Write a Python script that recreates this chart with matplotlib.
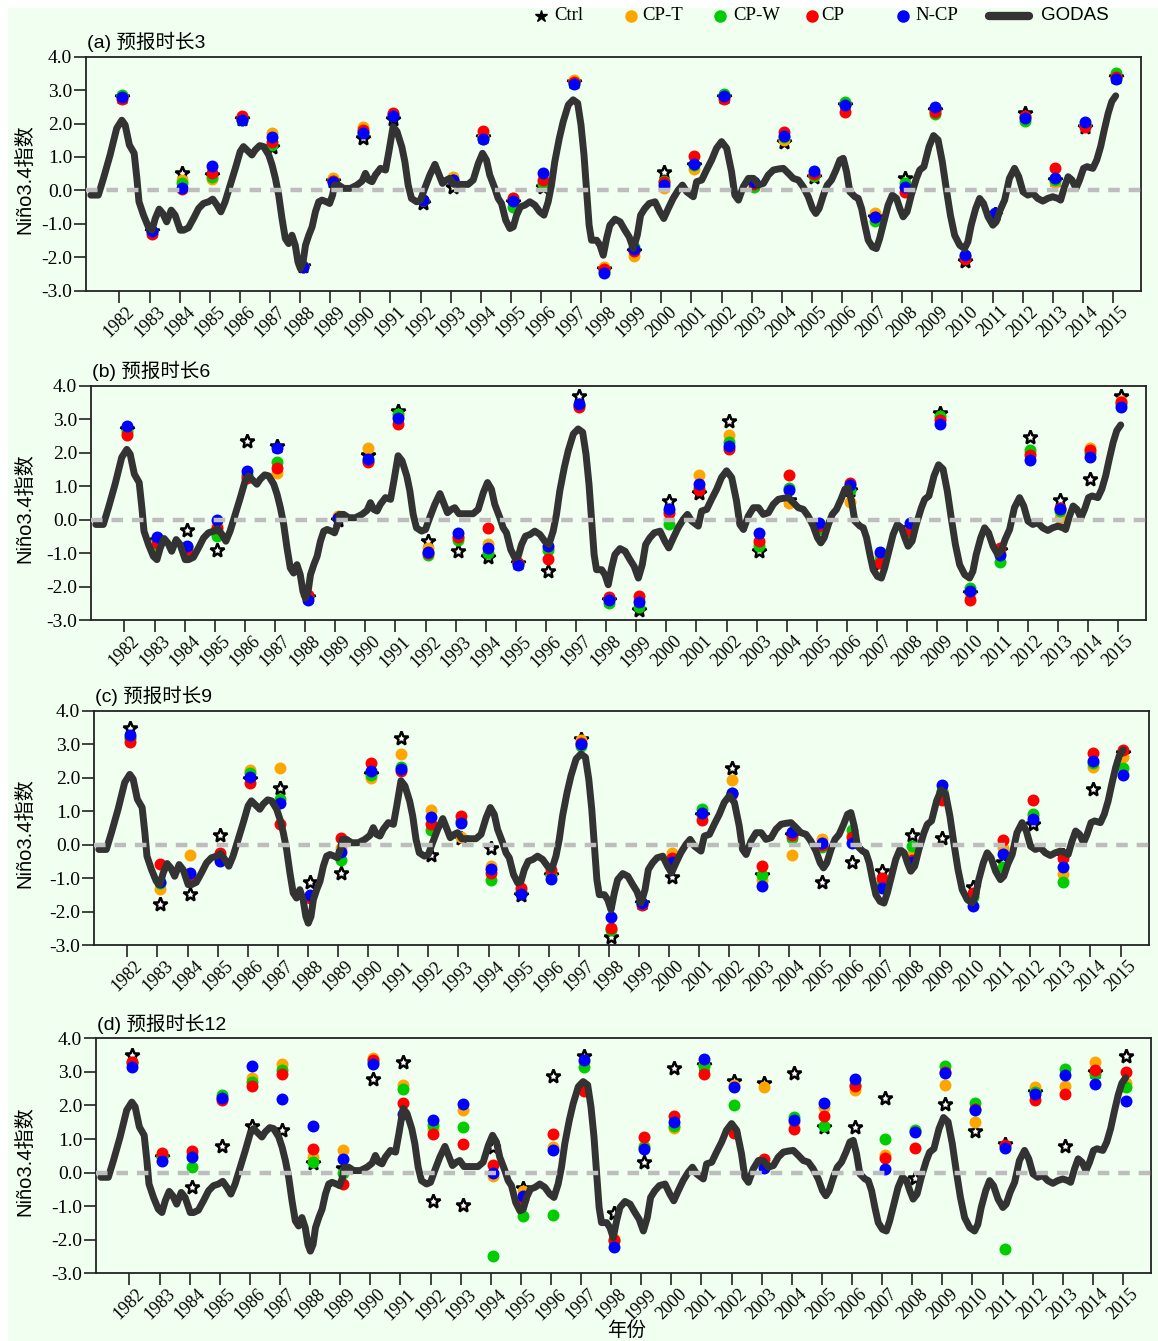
import matplotlib
matplotlib.use('Agg')
import matplotlib.pyplot as plt
from matplotlib.lines import Line2D
from matplotlib.patches import Rectangle
import numpy as np

# ---------------- data ----------------
years = list(range(1982, 2016))
year_labels = [str(y) for y in years]
ytick_vals = [-3, -2, -1, 0, 1, 2, 3, 4]
ytick_labels = ['-3.0', '-2.0', '-1.0', '0.0', '1.0', '2.0', '3.0', '4.0']
series_names = ['Ctrl', 'CP-T', 'CP-W', 'CP', 'N-CP']
panel_titles = ['(a) 预报时长3', '(b) 预报时长6', '(c) 预报时长9', '(d) 预报时长12']

# GODAS Nino3.4 index (x in tick units: tick "Y" = December of Y)
godas_t = [1981.05, 1981.30, 1981.47, 1981.69, 1981.91, 1982.08, 1982.19, 1982.33, 1982.49, 1982.58,
           1982.65, 1982.80, 1982.96, 1983.08, 1983.19, 1983.32, 1983.44, 1983.57, 1983.72, 1983.85,
           1984.02, 1984.13, 1984.29, 1984.46, 1984.63, 1984.79, 1984.96, 1985.10, 1985.24, 1985.37,
           1985.51, 1985.68, 1985.85, 1986.01, 1986.12, 1986.23, 1986.40, 1986.51, 1986.66, 1986.79,
           1986.96, 1987.07, 1987.18, 1987.29, 1987.40, 1987.51, 1987.62, 1987.73, 1987.84, 1987.93,
           1988.01, 1988.10, 1988.18, 1988.29, 1988.40, 1988.51, 1988.62, 1988.73, 1988.87, 1988.98,
           1989.08, 1989.14, 1989.28, 1989.45, 1989.67, 1989.89, 1990.06, 1990.17, 1990.28, 1990.39,
           1990.50, 1990.67, 1990.84, 1990.95, 1991.09, 1991.22, 1991.38, 1991.48, 1991.59, 1991.70,
           1991.87, 1992.00, 1992.14, 1992.31, 1992.48, 1992.62, 1992.73, 1992.86, 1992.97, 1993.11,
           1993.31, 1993.58, 1993.75, 1993.92, 1994.06, 1994.19, 1994.30, 1994.47, 1994.58, 1994.69,
           1994.83, 1994.97, 1995.08, 1995.19, 1995.32, 1995.47, 1995.63, 1995.80, 1995.96, 1996.10,
           1996.24, 1996.35, 1996.46, 1996.61, 1996.74, 1996.91, 1997.07, 1997.22, 1997.33, 1997.43,
           1997.52, 1997.60, 1997.68, 1997.85, 1997.96, 1998.07, 1998.18, 1998.29, 1998.46, 1998.63,
           1998.79, 1998.93, 1999.07, 1999.20, 1999.31, 1999.45, 1999.60, 1999.79, 1999.95, 2000.08,
           2000.23, 2000.39, 2000.56, 2000.70, 2000.84, 2001.06, 2001.17, 2001.34, 2001.50, 2001.67,
           2001.83, 2002.00, 2002.17, 2002.33, 2002.44, 2002.56, 2002.72, 2002.89, 2003.06, 2003.22,
           2003.39, 2003.55, 2003.72, 2003.88, 2004.05, 2004.22, 2004.38, 2004.55, 2004.71, 2004.88,
           2005.02, 2005.13, 2005.24, 2005.38, 2005.51, 2005.65, 2005.80, 2005.93, 2006.04, 2006.15,
           2006.26, 2006.43, 2006.54, 2006.65, 2006.76, 2006.87, 2007.01, 2007.14, 2007.25, 2007.39,
           2007.53, 2007.67, 2007.81, 2007.92, 2008.03, 2008.16, 2008.30, 2008.47, 2008.58, 2008.72,
           2008.89, 2009.04, 2009.19, 2009.33, 2009.46, 2009.60, 2009.74, 2009.91, 2010.07, 2010.18,
           2010.29, 2010.44, 2010.57, 2010.70, 2010.85, 2011.01, 2011.12, 2011.25, 2011.40, 2011.56,
           2011.73, 2011.87, 2012.01, 2012.17, 2012.34, 2012.50, 2012.67, 2012.83, 2013.00, 2013.17,
           2013.26, 2013.39, 2013.51, 2013.64, 2013.77, 2013.89, 2014.02, 2014.14, 2014.33, 2014.46,
           2014.59, 2014.71, 2014.84, 2014.96, 2015.09]
godas_v = [-0.14, -0.14, 0.36, 1.06, 1.86, 2.10, 1.96, 1.36, 1.11, 0.36,
           -0.34, -0.74, -1.09, -1.19, -0.84, -0.56, -0.69, -0.94, -0.59, -0.74,
           -1.19, -1.19, -1.12, -0.84, -0.54, -0.39, -0.34, -0.26, -0.44, -0.64,
           -0.34, 0.16, 0.66, 1.16, 1.31, 1.21, 1.06, 1.21, 1.34, 1.31,
           1.06, 0.76, 0.36, -0.14, -0.84, -1.44, -1.59, -1.34, -1.64, -2.14,
           -2.34, -2.14, -1.64, -1.34, -1.09, -0.64, -0.34, -0.29, -0.34, -0.39,
           -0.14, 0.16, 0.16, 0.06, 0.06, 0.16, 0.28, 0.51, 0.31, 0.26,
           0.46, 0.66, 0.61, 1.16, 1.91, 1.76, 1.30, 0.86, 0.16, -0.24,
           -0.34, -0.29, 0.06, 0.46, 0.78, 0.46, 0.21, 0.31, 0.36, 0.18,
           0.18, 0.18, 0.31, 0.81, 1.11, 0.91, 0.46, 0.06, -0.24, -0.39,
           -0.89, -1.14, -1.09, -0.74, -0.49, -0.44, -0.34, -0.44, -0.64, -0.74,
           -0.34, 0.16, 0.86, 1.56, 2.06, 2.56, 2.71, 2.61, 1.96, 1.06,
           -0.04, -1.04, -1.49, -1.49, -1.64, -1.94, -1.44, -1.04, -0.86, -0.94,
           -1.19, -1.39, -1.74, -1.34, -0.74, -0.54, -0.39, -0.34, -0.64, -0.84,
           -0.54, -0.24, 0.01, 0.16, -0.04, -0.19, 0.26, 0.31, 0.61, 0.91,
           1.26, 1.46, 1.26, 0.56, -0.14, -0.29, 0.11, 0.36, 0.36, 0.16,
           0.21, 0.46, 0.61, 0.64, 0.66, 0.51, 0.36, 0.31, 0.11, -0.19,
           -0.54, -0.69, -0.54, -0.14, 0.16, 0.31, 0.61, 0.91, 0.96, 0.56,
           -0.04, -0.19, -0.24, -0.54, -1.04, -1.49, -1.69, -1.74, -1.44, -0.94,
           -0.44, -0.14, -0.24, -0.54, -0.79, -0.64, -0.14, 0.36, 0.61, 0.71,
           1.31, 1.64, 1.51, 0.86, 0.06, -0.74, -1.34, -1.64, -1.74, -1.54,
           -1.04, -0.54, -0.24, -0.39, -0.79, -1.04, -0.94, -0.59, -0.29, 0.36,
           0.66, 0.41, -0.04, -0.14, -0.09, -0.24, -0.32, -0.24, -0.19, -0.24,
           -0.29, 0.11, 0.41, 0.31, 0.06, 0.31, 0.66, 0.71, 0.66, 0.91,
           1.31, 1.81, 2.31, 2.66, 2.83]

# forecasts, lead 3
lead3_ctrl = [2.80, -1.20, 0.51, 0.45, 2.15, 1.31, -2.25, 0.28, 1.56, 2.15, -0.39, 0.11, 1.60, -0.35, 0.11, 3.25, -2.35,
              -1.80, 0.56, 0.75, 2.80, 0.20, 1.46, 0.40, 2.55, -0.80, 0.38, 2.40, -2.12, -0.70, 2.31, 0.30, 1.90, 3.40]
lead3_cpt = [2.82, -1.25, 0.31, 0.34, 2.15, 1.71, -2.25, 0.36, 1.91, 2.30, -0.30, 0.41, 1.60, -0.22, 0.26, 3.31, -2.29,
             -1.96, 0.06, 0.64, 2.80, 0.20, 1.51, 0.46, 2.60, -0.69, 0.10, 2.40, -2.00, -0.70, 2.20, 0.26, 1.95, 3.40]
lead3_cpw = [2.86, -1.20, 0.21, 0.41, 2.12, 1.36, -2.25, 0.28, 1.75, 2.25, -0.30, 0.30, 1.55, -0.49, 0.18, 3.20, -2.40,
             -1.69, 0.28, 0.75, 2.88, 0.11, 1.60, 0.44, 2.64, -0.92, 0.21, 2.28, -1.95, -0.70, 2.08, 0.30, 1.95, 3.50]
lead3_cp = [2.72, -1.29, 0.03, 0.53, 2.24, 1.46, -2.28, 0.28, 1.81, 2.33, -0.30, 0.30, 1.78, -0.22, 0.31, 3.24, -2.36,
            -1.80, 0.24, 1.04, 2.74, 0.20, 1.76, 0.50, 2.34, -0.80, -0.04, 2.36, -2.06, -0.70, 2.24, 0.68, 1.91, 3.40]
lead3_ncp = [2.78, -1.22, 0.08, 0.73, 2.10, 1.61, -2.28, 0.24, 1.71, 2.23, -0.29, 0.31, 1.54, -0.32, 0.53, 3.18, -2.47,
             -1.76, 0.16, 0.78, 2.81, 0.26, 1.64, 0.59, 2.56, -0.81, 0.11, 2.49, -1.92, -0.69, 2.18, 0.38, 2.04, 3.33]

# lead 6
lead6_ctrl = [2.70, -0.60, -0.31, -0.89, 2.36, 2.20, -2.30, 0.00, 1.93, 3.25, -0.64, -0.94, -1.11, -1.30, -1.52, 3.68, -2.40,
              -2.68, 0.56, 0.79, 2.95, -0.94, 0.60, -0.20, 0.90, -1.30, -0.25, 3.20, -2.20, -0.90, 2.47, 0.59, 1.23, 3.68]
lead6_cpt = [2.60, -0.60, -0.80, -0.19, 1.30, 1.41, -2.30, 0.11, 2.15, 3.10, -0.84, -0.50, -0.71, -1.30, -0.85, 3.40, -2.35,
             -2.40, 0.25, 1.33, 2.54, -0.70, 0.51, -0.20, 0.53, -1.09, -0.30, 3.05, -2.20, -1.00, 2.00, 0.06, 2.13, 3.55]
lead6_cpw = [2.65, -0.80, -0.80, -0.49, 1.35, 1.73, -2.30, 0.05, 1.75, 3.17, -1.04, -0.59, -0.99, -1.30, -0.90, 3.42, -2.49,
             -2.60, -0.12, 0.95, 2.31, -0.79, 0.96, -0.27, 0.90, -1.20, -0.44, 3.10, -2.04, -1.26, 2.09, 0.26, 2.00, 3.45]
lead6_cp = [2.52, -0.69, -0.89, -0.24, 1.26, 1.55, -2.24, 0.05, 1.71, 2.85, -1.00, -0.50, -0.26, -1.30, -1.17, 3.37, -2.29,
            -2.27, 0.19, 0.89, 2.10, -0.64, 1.34, -0.19, 1.09, -1.29, -0.34, 2.97, -2.39, -0.84, 1.93, 0.35, 2.08, 3.50]
lead6_ncp = [2.80, -0.52, -0.77, 0.00, 1.45, 2.14, -2.39, 0.06, 1.80, 3.04, -0.97, -0.41, -0.84, -1.36, -0.77, 3.45, -2.39,
             -2.46, 0.31, 1.06, 2.20, -0.41, 0.89, -0.09, 1.04, -0.97, -0.11, 2.85, -2.14, -1.04, 1.78, 0.31, 1.88, 3.35]

# lead 9
lead9_ctrl = [3.47, -1.78, -1.47, 0.29, 1.95, 1.70, -1.10, -0.84, 2.10, 3.19, -0.31, 0.20, -0.09, -1.50, -0.90, 3.17, -2.75,
              -1.75, -0.96, 0.90, 2.30, -0.90, 0.30, -1.10, -0.51, -0.78, 0.29, 0.19, -1.27, -0.50, 0.62, -0.30, 1.65, 2.75]
lead9_cpt = [3.20, -1.33, -0.31, -0.30, 2.23, 2.30, -1.55, -0.10, 1.98, 2.70, 1.05, 0.24, -0.63, -1.35, -0.90, 3.12, -2.50,
             -1.75, -0.26, 0.90, 1.93, -1.05, -0.31, 0.16, 0.30, -1.10, -0.30, 1.60, -1.50, -0.11, 0.85, -0.88, 2.33, 2.63]
lead9_cpw = [3.20, -1.15, -0.95, -0.40, 2.13, 1.38, -1.55, -0.44, 2.08, 2.33, 0.44, 0.70, -1.05, -1.40, -0.90, 2.95, -2.55,
             -1.75, -0.45, 1.08, 1.55, -0.90, 0.19, -0.06, 0.44, -1.20, -0.04, 1.60, -1.55, -0.66, 0.92, -1.10, 2.45, 2.30]
lead9_cp = [3.07, -0.58, -0.90, -0.24, 1.83, 0.62, -1.60, 0.19, 2.43, 2.20, 0.61, 0.86, -0.83, -1.30, -0.76, 3.05, -2.48,
            -1.80, -0.41, 0.74, 1.50, -0.64, 0.29, 0.00, 0.24, -1.00, -0.44, 1.33, -1.43, 0.14, 1.33, -0.41, 2.75, 2.83]
lead9_ncp = [3.27, -1.10, -0.84, -0.48, 2.01, 1.26, -1.50, -0.21, 2.21, 2.26, 0.82, 0.64, -0.73, -1.48, -1.02, 3.00, -2.15,
             -1.75, -0.50, 0.96, 1.53, -1.22, 0.39, 0.04, 0.06, -1.30, -0.50, 1.78, -1.83, -0.28, 0.76, -0.66, 2.50, 2.08]

# lead 12
lead12_ctrl = [3.49, 0.45, -0.44, 0.78, 1.40, 1.28, 0.30, 0.15, 2.79, 3.29, -0.85, -0.98, 0.75, -0.46, 2.87, 3.47, -1.20,
               0.31, 3.12, 3.20, 2.72, 2.67, 2.97, 1.36, 1.35, 2.22, -0.16, 2.05, 1.23, 0.85, 2.40, 0.78, 3.00, 3.47]
lead12_cpt = [3.30, 0.50, 0.55, 2.25, 2.82, 3.22, 0.47, 0.66, 3.42, 2.62, 1.30, 1.86, -0.11, -0.56, 0.76, 3.30, -1.98,
              0.80, 1.33, 3.20, 2.60, 2.54, 1.50, 1.96, 2.45, 0.53, 1.25, 2.60, 1.51, 0.80, 2.54, 2.59, 3.29, 2.67]
lead12_cpw = [3.25, 0.45, 0.16, 2.32, 2.70, 3.07, 0.31, 0.00, 3.30, 2.49, 1.43, 1.36, -2.49, -1.28, -1.25, 3.14, -2.05,
              0.75, 1.40, 3.17, 2.00, 0.30, 1.65, 1.40, 2.60, 1.00, 1.28, 3.17, 2.06, -2.27, 2.40, 3.09, 2.95, 2.55]
lead12_cp = [3.29, 0.59, 0.64, 2.16, 2.57, 2.95, 0.71, -0.33, 3.35, 2.06, 1.16, 0.86, 0.22, -0.80, 1.16, 2.42, -2.00,
             1.05, 1.70, 2.94, 1.18, 0.41, 1.30, 1.68, 2.57, 0.44, 0.72, 3.00, 1.90, 0.83, 2.15, 2.35, 3.07, 2.99]
lead12_ncp = [3.15, 0.34, 0.47, 2.22, 3.17, 2.19, 1.38, 0.39, 3.24, 1.76, 1.58, 2.05, -0.01, -0.71, 0.66, 3.35, -2.21,
              0.69, 1.51, 3.37, 2.54, 0.14, 1.56, 2.08, 2.79, 0.12, 1.21, 2.97, 1.86, 0.73, 2.35, 2.92, 2.65, 2.14]

panels = [
    [lead3_ctrl, lead3_cpt, lead3_cpw, lead3_cp, lead3_ncp],
    [lead6_ctrl, lead6_cpt, lead6_cpw, lead6_cp, lead6_ncp],
    [lead9_ctrl, lead9_cpt, lead9_cpw, lead9_cp, lead9_ncp],
    [lead12_ctrl, lead12_cpt, lead12_cpw, lead12_cp, lead12_ncp],
]

# ---------------- style ----------------
W, H = 1158, 1341
BG = '#F0FFF0'
dot_colors = ['black', '#FFA500', '#00CC00', '#FF0000', '#0000FF']
GODAS_C = '#333333'
SERIF = ['Liberation Serif', 'DejaVu Serif']
SANS_CJK = ['Liberation Sans', 'Noto Sans CJK SC', 'DejaVu Sans']

# axes boxes in pixels: left, right, top, bottom
boxes = [(86, 1141, 56.7, 290.7),
         (91, 1146, 385.7, 620.3),
         (94, 1148.5, 710.7, 945.3),
         (96, 1151, 1038.3, 1273.3)]

fig = plt.figure(figsize=(W / 100, H / 100), dpi=100)
fig.patch.set_facecolor('white')
fig.add_artist(Rectangle((8 / W, 0), 1 - 8 / W, 1 - 8 / H, transform=fig.transFigure,
                         facecolor=BG, edgecolor='none', zorder=-10))

dot_offset = 1.0 / 12
xs = np.array(years) + dot_offset

for i, (l, r, t, b) in enumerate(boxes):
    ax = fig.add_axes([l / W, 1 - b / H, (r - l) / W, (b - t) / H])
    ax.set_facecolor(BG)
    ax.set_xlim(1980.89, 2015.93)
    ax.set_ylim(-3.0, 4.0)

    data = panels[i]
    # Ctrl stars
    ax.plot(xs, data[0], ls='none', marker='*', ms=10.5, mfc='white', mec='black', mew=1.8, zorder=3)
    for k in range(1, 5):
        ax.plot(xs, data[k], ls='none', marker='o', ms=8.6, color=dot_colors[k], mec=dot_colors[k],
                mew=0, zorder=3 + k * 0.1)
    # GODAS curve
    ax.plot(godas_t, godas_v, color=GODAS_C, lw=5.0, solid_joinstyle='round',
            solid_capstyle='round', zorder=5)
    # zero line
    ax.axhline(0, color='#BDBDBD', lw=3.2, ls=(0, (2.6, 2.0)), zorder=6)

    ax.set_xticks(years)
    ax.set_xticklabels(year_labels, rotation=45, ha='center', fontfamily=SERIF, fontsize=13)
    ax.set_yticks(ytick_vals)
    ax.set_yticklabels(ytick_labels, fontfamily=SERIF, fontsize=14)
    ax.tick_params(axis='both', direction='out', length=8.5, width=1.2, color='#222222', pad=1.5)
    ax.tick_params(axis='x', pad=0.5)
    for sp in ax.spines.values():
        sp.set_linewidth(1.3)
        sp.set_color('#222222')

    fig.text((l + 1) / W, 1 - (t - 14.5) / H, panel_titles[i], family=SANS_CJK, fontsize=14,
             ha='left', va='center')
    fig.text(25 / W, 1 - ((t + b) / 2 + 5) / H, 'Niño3.4指数', family=SANS_CJK, fontsize=14.5,
             rotation=90, ha='center', va='center')

fig.text(627 / W, 1 - 1331 / H, '年份', family=SANS_CJK, fontsize=14, ha='center', va='center')

# ---------------- legend (top) ----------------
ly = 1 - 16 / H
leg_markers = [(540.7, '*', 'black', 9), (631, 'o', dot_colors[1], 8), (720, 'o', dot_colors[2], 8),
               (812, 'o', dot_colors[3], 8), (903, 'o', dot_colors[4], 8)]
leg_text_x = [554.5, 642.7, 733, 821, 915.5]
for (mx, mk, mc, ms), tx, name in zip(leg_markers, leg_text_x, series_names):
    fig.add_artist(Line2D([mx / W], [ly], marker=mk, ms=ms, color=mc, mec=mc, ls='none',
                          transform=fig.transFigure))
    fig.text(tx / W, ly, name, family=SERIF, fontsize=13.5, ha='left', va='center')
fig.add_artist(Line2D([989 / W, 1029 / W], [ly, ly], color=GODAS_C, lw=6, solid_capstyle='round',
                      transform=fig.transFigure))
fig.text(1041 / W, ly, 'GODAS', family=['Liberation Sans', 'DejaVu Sans'], fontsize=13.5,
         ha='left', va='center')

fig.savefig('out.png', dpi=100, facecolor=fig.get_facecolor())
